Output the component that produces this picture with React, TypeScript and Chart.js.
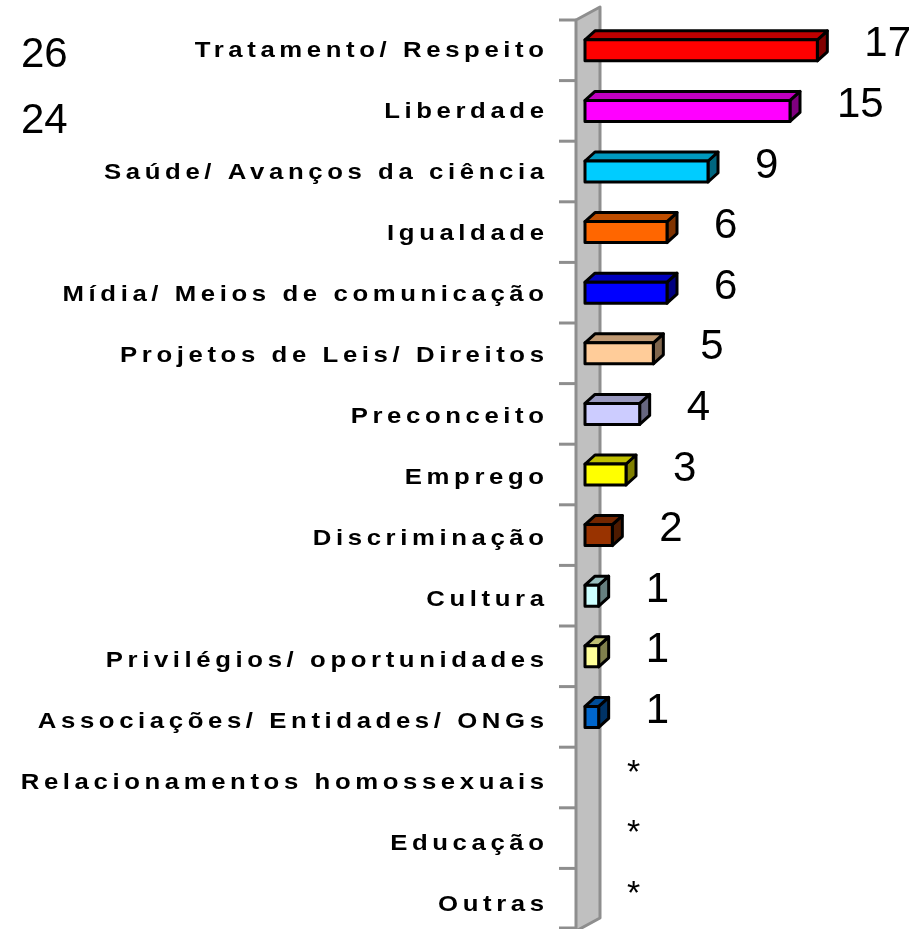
import React, { useEffect, useRef } from 'react';
import { Chart, registerables } from 'chart.js';

Chart.register(...registerables);

const FONT = "'Liberation Sans', Arial, Helvetica, sans-serif";

const categories = [
  'Tratamento/ Respeito',
  'Liberdade',
  'Saúde/ Avanços da ciência',
  'Igualdade',
  'Mídia/ Meios de comunicação',
  'Projetos de Leis/ Direitos',
  'Preconceito',
  'Emprego',
  'Discriminação',
  'Cultura',
  'Privilégios/ oportunidades',
  'Associações/ Entidades/ ONGs',
  'Relacionamentos homossexuais',
  'Educação',
  'Outras',
];

const values: (number | null)[] = [17, 15, 9, 6, 6, 5, 4, 3, 2, 1, 1, 1, null, null, null];

const valueLabels = ['17', '15', '9', '6', '6', '5', '4', '3', '2', '1', '1', '1', '*', '*', '*'];

const frontColors = [
  '#FF0000', '#FF00FF', '#00CCFF', '#FF6600', '#0000FF', '#FFCC99',
  '#CCCCFF', '#FFFF00', '#993300', '#CCFFFF', '#FFFF99', '#0066CC',
  '#999999', '#999999', '#999999',
];

const leftNotes = ['26', '24'];

function shade(hex: string, f: number) {
  const n = parseInt(hex.slice(1), 16);
  const r = Math.round(((n >> 16) & 255) * f);
  const g = Math.round(((n >> 8) & 255) * f);
  const b = Math.round((n & 255) * f);
  return `rgb(${r},${g},${b})`;
}

export default function App() {
  const ref = useRef<HTMLCanvasElement>(null);

  useEffect(() => {
    const canvas = ref.current!;
    const ctx0 = canvas.getContext('2d')!;

    const decor = {
      id: 'decor',
      beforeDatasetsDraw(chart: any) {
        const { ctx, chartArea: ca } = chart;
        const ys = chart.scales.y;
        ctx.save();
        // wall
        ctx.beginPath();
        ctx.moveTo(ca.left - 9, ca.top);
        ctx.lineTo(ca.left + 15, ca.top - 13);
        ctx.lineTo(ca.left + 15, ca.bottom - 11);
        ctx.lineTo(ca.left - 9, ca.bottom + 2);
        ctx.closePath();
        ctx.fillStyle = '#C0C0C0';
        ctx.fill();
        ctx.strokeStyle = '#8E8E8E';
        ctx.lineWidth = 3;
        ctx.lineJoin = 'round';
        ctx.stroke();
        // ticks
        const n = categories.length;
        for (let k = 0; k <= n; k++) {
          let yb: number;
          if (k === 0) yb = ca.top;
          else if (k === n) yb = ca.bottom - 1;
          else yb = (ys.getPixelForValue(k - 1) + ys.getPixelForValue(k)) / 2;
          ctx.beginPath();
          ctx.moveTo(ca.left - 26, yb);
          ctx.lineTo(ca.left - 9, yb);
          ctx.stroke();
        }
        ctx.restore();
      },
      afterDatasetsDraw(chart: any) {
        const { ctx, chartArea: ca } = chart;
        const ys = chart.scales.y;
        const xs = chart.scales.x;
        const meta = chart.getDatasetMeta(0);
        const dx = 10;
        const dy = 9;
        ctx.save();
        ctx.lineWidth = 3;
        ctx.lineJoin = 'round';
        ctx.strokeStyle = '#000';
        meta.data.forEach((el: any, i: number) => {
          if (values[i] == null) return;
          const p = el.getProps(['x', 'y', 'base', 'height'], true);
          const x0 = p.base;
          const x1 = p.x;
          const t = p.y - p.height / 2;
          const b = p.y + p.height / 2;
          const c = frontColors[i];
          // side
          ctx.beginPath();
          ctx.moveTo(x1, t);
          ctx.lineTo(x1 + dx, t - dy);
          ctx.lineTo(x1 + dx, b - dy);
          ctx.lineTo(x1, b);
          ctx.closePath();
          ctx.fillStyle = shade(c, 0.5);
          ctx.fill();
          ctx.stroke();
          // top
          ctx.beginPath();
          ctx.moveTo(x0, t);
          ctx.lineTo(x0 + dx, t - dy);
          ctx.lineTo(x1 + dx, t - dy);
          ctx.lineTo(x1, t);
          ctx.closePath();
          ctx.fillStyle = shade(c, 0.75);
          ctx.fill();
          ctx.stroke();
          // front
          ctx.beginPath();
          ctx.rect(x0, t, x1 - x0, b - t);
          ctx.fillStyle = c;
          ctx.fill();
          ctx.stroke();
        });

        // value labels
        ctx.fillStyle = '#000';
        ctx.textAlign = 'left';
        ctx.textBaseline = 'alphabetic';
        valueLabels.forEach((lab, i) => {
          const v = values[i];
          const yc = ys.getPixelForValue(i);
          const xEnd = xs.getPixelForValue(v == null ? 0 : v);
          if (lab === '*') {
            ctx.font = `34px ${FONT}`;
            ctx.fillText(lab, xEnd + 42, yc + 5);
          } else {
            ctx.font = `42px ${FONT}`;
            ctx.fillText(lab, xEnd + 47, yc + 6);
          }
        });

        // category labels (wide, letter-spaced bold)
        const sx = 1.17;
        const ls = 4.6 / sx;
        ctx.font = `bold 22px ${FONT}`;
        ctx.textAlign = 'right';
        categories.forEach((lab, i) => {
          const yc = ys.getPixelForValue(i);
          ctx.save();
          ctx.translate(ca.left - 41, yc + 7 + i * 0.35);
          ctx.scale(sx, 1);
          (ctx as any).letterSpacing = `${ls}px`;
          ctx.fillText(lab, ls, 0);
          ctx.restore();
        });

        // left notes
        ctx.font = `42px ${FONT}`;
        ctx.textAlign = 'left';
        leftNotes.forEach((lab, i) => {
          const yc = ys.getPixelForValue(i);
          ctx.fillText(lab, 21, yc + 17 + i * 5);
        });
        ctx.restore();
      },
    };

    const chart = new Chart(ctx0, {
      type: 'bar',
      data: {
        labels: categories,
        datasets: [
          {
            data: values,
            backgroundColor: 'rgba(0,0,0,0)',
            borderWidth: 0,
            barThickness: 21,
          },
        ],
      },
      options: {
        animation: false,
        responsive: false,
        maintainAspectRatio: false,
        indexAxis: 'y',
        events: [],
        layout: { padding: { left: 585, right: 9, top: 20, bottom: 0 } },
        scales: {
          x: { min: 0, max: 24, display: false },
          y: { display: false, offset: true },
        },
        plugins: { legend: { display: false }, tooltip: { enabled: false } },
      },
      plugins: [decor],
    } as any);

    return () => chart.destroy();
  }, []);

  return (
    <div style={{ position: 'fixed', left: 0, top: 0, width: 922, height: 929, background: '#fff' }}>
      <canvas ref={ref} width={922} height={929} style={{ display: 'block', width: 922, height: 929 }} />
    </div>
  );
}
